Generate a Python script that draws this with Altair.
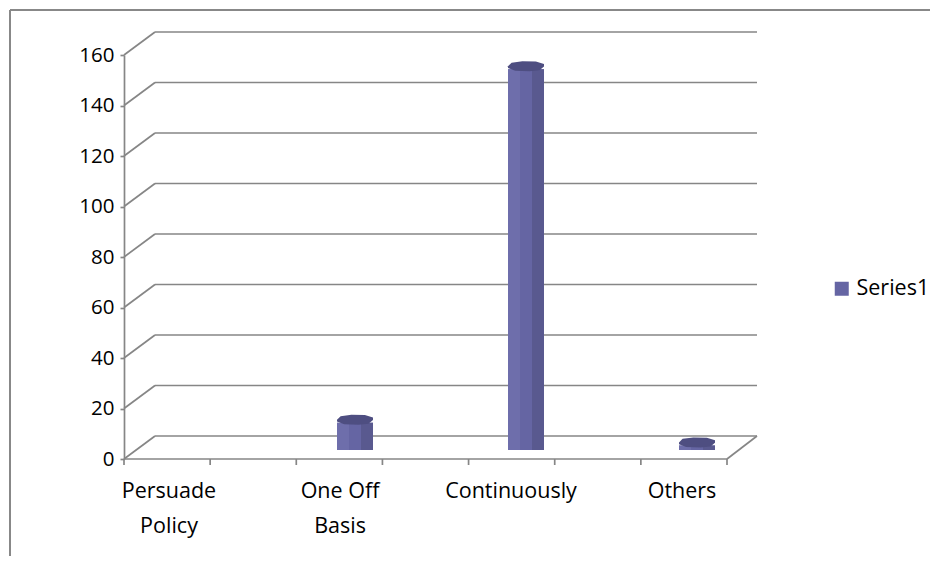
import altair as alt
import pandas as pd

# ---- data ----
categories = ["Persuade Policy", "One Off Basis", "Continuously", "Others"]
values = [0, 11, 151, 2]
series_name = "Series1"
y_ticks = [0, 20, 40, 60, 80, 100, 120, 140, 160]
floor_ticks = [0, 1, 2, 3, 4, 5, 6, 7]

FONT = "Open Sans"
GRID = "#868686"
LW = 1.7
BAR = "#6565a3"
BAR_LIGHT = "#6e6eab"
BAR_DARK = "#59598f"
CAP = "#4e4e81"
ELLIPSE = "M -1 0 L -0.8 -0.2 L -0.2 -0.28 L 0.55 -0.26 L 1 -0.12 L 1 0.02 L 0.75 0.22 L 0.2 0.28 L -0.6 0.25 L -1 0.1 Z"

bars_df = pd.DataFrame({"cat": categories, "val": values, "series": series_name})
grid_df = pd.DataFrame({"v": y_ticks})
tick_df = pd.DataFrame({"t": floor_ticks})

yscale = alt.Scale(domain=[0, 160], range=[427, 23], nice=False, zero=True)
xscale = alt.Scale(domain=categories, range=[-40.5, 643.5], paddingInner=0, paddingOuter=0)

# back-wall gridlines (carry the y axis)
back_grid = alt.Chart(grid_df).mark_rule(color=GRID, strokeWidth=LW, yOffset=-23).encode(
    y=alt.Y("v:Q", scale=yscale, axis=alt.Axis(
        values=y_ticks, title=None, grid=False,
        domainColor=GRID, domainWidth=LW,
        tickColor=GRID, tickWidth=LW, tickSize=4,
        labelFont=FONT, labelFontSize=20.5, labelColor="black", labelPadding=6,
    )),
    x=alt.value(31), x2=alt.value(633),
)

# side-wall diagonals
side_grid = alt.Chart(grid_df).mark_rule(color=GRID, strokeWidth=LW, y2Offset=-23).encode(
    y=alt.Y("v:Q", scale=yscale), y2=alt.Y2("v:Q"),
    x=alt.value(0), x2=alt.value(31),
)

# floor front edge and right edge
floor_front = alt.Chart(grid_df).transform_filter("datum.v == 0").mark_rule(
    color=GRID, strokeWidth=LW).encode(
    y=alt.Y("v:Q", scale=yscale), x=alt.value(0), x2=alt.value(603),
)
floor_right = alt.Chart(grid_df).transform_filter("datum.v == 0").mark_rule(
    color=GRID, strokeWidth=LW, y2Offset=-23).encode(
    y=alt.Y("v:Q", scale=yscale), y2=alt.Y2("v:Q"), x=alt.value(603), x2=alt.value(633),
)

# floor tick marks
floor_tick_marks = alt.Chart(tick_df).mark_rule(color=GRID, strokeWidth=LW).encode(
    x=alt.X("t:Q", scale=alt.Scale(domain=[0, 7], range=[0, 603], nice=False), axis=None),
    y=alt.value(427), y2=alt.value(433),
)

label_expr = ("indexof(datum.label, ' ') > 0 ? "
              "[slice(datum.label, 0, lastindexof(datum.label, ' ')), "
              "slice(datum.label, lastindexof(datum.label, ' ') + 1)] : datum.label")

base = alt.Chart(bars_df).transform_filter("datum.val > 0")

bar_main = base.mark_bar(size=36, xOffset=15, yOffset=-8.5, y2Offset=-9).encode(
    x=alt.X("cat:N", scale=xscale, sort=categories, axis=alt.Axis(
        title=None, domain=False, ticks=False, grid=False, labelAngle=0,
        labelFont=FONT, labelFontSize=21.5, labelColor="black",
        labelPadding=21, labelLineHeight=35, labelExpr=label_expr,
    )),
    y=alt.Y("val:Q", scale=yscale),
    y2=alt.datum(0),
    color=alt.Color("series:N", scale=alt.Scale(domain=[series_name], range=[BAR]),
                    legend=alt.Legend(orient="none", legendX=707, legendY=246, title=None,
                                      symbolType="square", symbolSize=196,
                                      symbolStrokeWidth=0, labelFont=FONT,
                                      labelFontSize=21.5, labelColor="black",
                                      labelOffset=4)),
)
bar_light = base.mark_bar(size=12, xOffset=3, yOffset=-8.5, y2Offset=-9, color=BAR_LIGHT).encode(
    x=alt.X("cat:N", scale=xscale, sort=categories),
    y=alt.Y("val:Q", scale=yscale), y2=alt.datum(0),
)
bar_dark = base.mark_bar(size=12, xOffset=27, yOffset=-8.5, y2Offset=-9, color=BAR_DARK).encode(
    x=alt.X("cat:N", scale=xscale, sort=categories),
    y=alt.Y("val:Q", scale=yscale), y2=alt.datum(0),
)
bar_cap = base.mark_point(shape=ELLIPSE, filled=True, size=1296, color=CAP, opacity=1,
                          strokeWidth=0, xOffset=15, yOffset=-11.5).encode(
    x=alt.X("cat:N", scale=xscale, sort=categories),
    y=alt.Y("val:Q", scale=yscale),
)

bars = alt.layer(bar_main, bar_light, bar_dark, bar_cap)

# outer chart frame (top and left edges visible in the reference)
frame_left = alt.Chart(grid_df).transform_filter("datum.v == 0").mark_rule(
    color="#888888", strokeWidth=2).encode(
    x=alt.value(-114), y=alt.value(-22), y2=alt.value(530))
frame_top = alt.Chart(grid_df).transform_filter("datum.v == 0").mark_rule(
    color="#888888", strokeWidth=2).encode(
    x=alt.value(-114), x2=alt.value(810), y=alt.value(-22))

chart = alt.layer(
    frame_left, frame_top, back_grid, side_grid, floor_front, floor_right,
    floor_tick_marks, bars,
).resolve_scale(x="independent").properties(
    width=633, height=427,
    padding={"left": 116, "top": 24, "right": 173, "bottom": 97},
    autosize=alt.AutoSizeParams(type="none"),
    background="white",
).configure_view(stroke=None)

chart.save("out.html", embed_options={"renderer": "svg", "actions": False})
